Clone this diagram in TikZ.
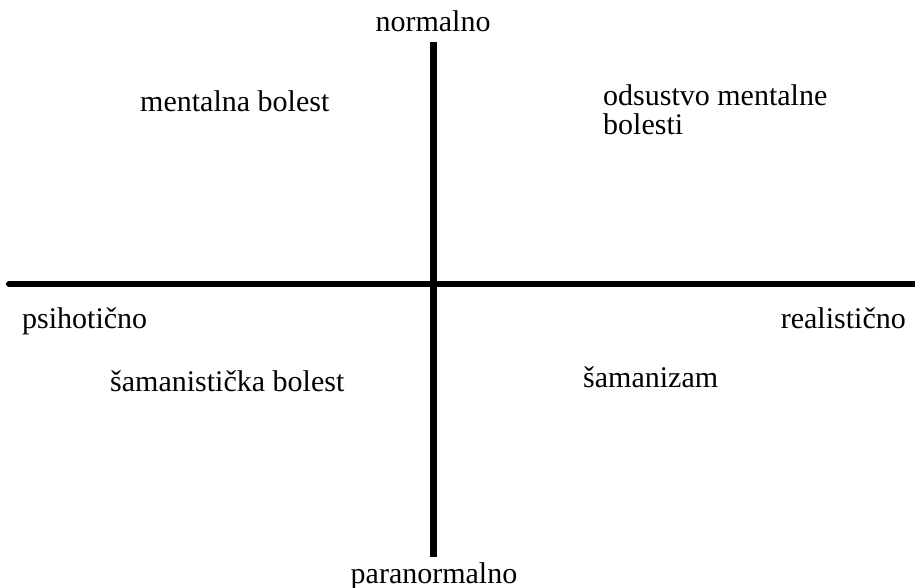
\documentclass[tikz,border=0pt]{standalone}
\usepackage{fontspec}
\setmainfont{Liberation Serif}
\usetikzlibrary{positioning}

\begin{document}
\begin{tikzpicture}[
				x=1pt,y=-1pt,
				label/.style={inner sep=0pt,font=\fontsize{30}{29}\selectfont,align=left},
				axis/.style={line width=7pt,black}
				]
				
				% okvir slike
				\useasboundingbox (0,0) rectangle (915,588);
				
				% krajevi osa
				\coordinate (top) at (433,42);
				\coordinate (bottom) at (433,557);
				\coordinate (left) at (9,284);
				\coordinate (right) at (915,284);
				
				% ose
				\draw[axis] (top) -- (bottom);
				\draw[axis,line width=6pt,line cap=round] (left) -- (right);
				
				% oznake osa
				\node[label,anchor=base] (normal) at (433,32) {normalno};
				\node[label,anchor=base] (paranormal) at (434,583) {paranormalno};
				\node[label,anchor=base west] (psih) at (22,328) {psihotično};
				\node[label,anchor=base east] (real) at (906,328) {realistično};
				
				% kvadranti
				\node[label,anchor=base west] (bolest) at (140,112) {mentalna bolest};
				\node[label,anchor=base west] (odsustvo) at (603,135) {odsustvo mentalne\\bolesti};
				\node[label,anchor=base west] (samboles) at (110,391) {šamanistička bolest};
				\node[label,anchor=base west] (saman) at (583,387) {šamanizam};
				
			\end{tikzpicture}
\end{document}
